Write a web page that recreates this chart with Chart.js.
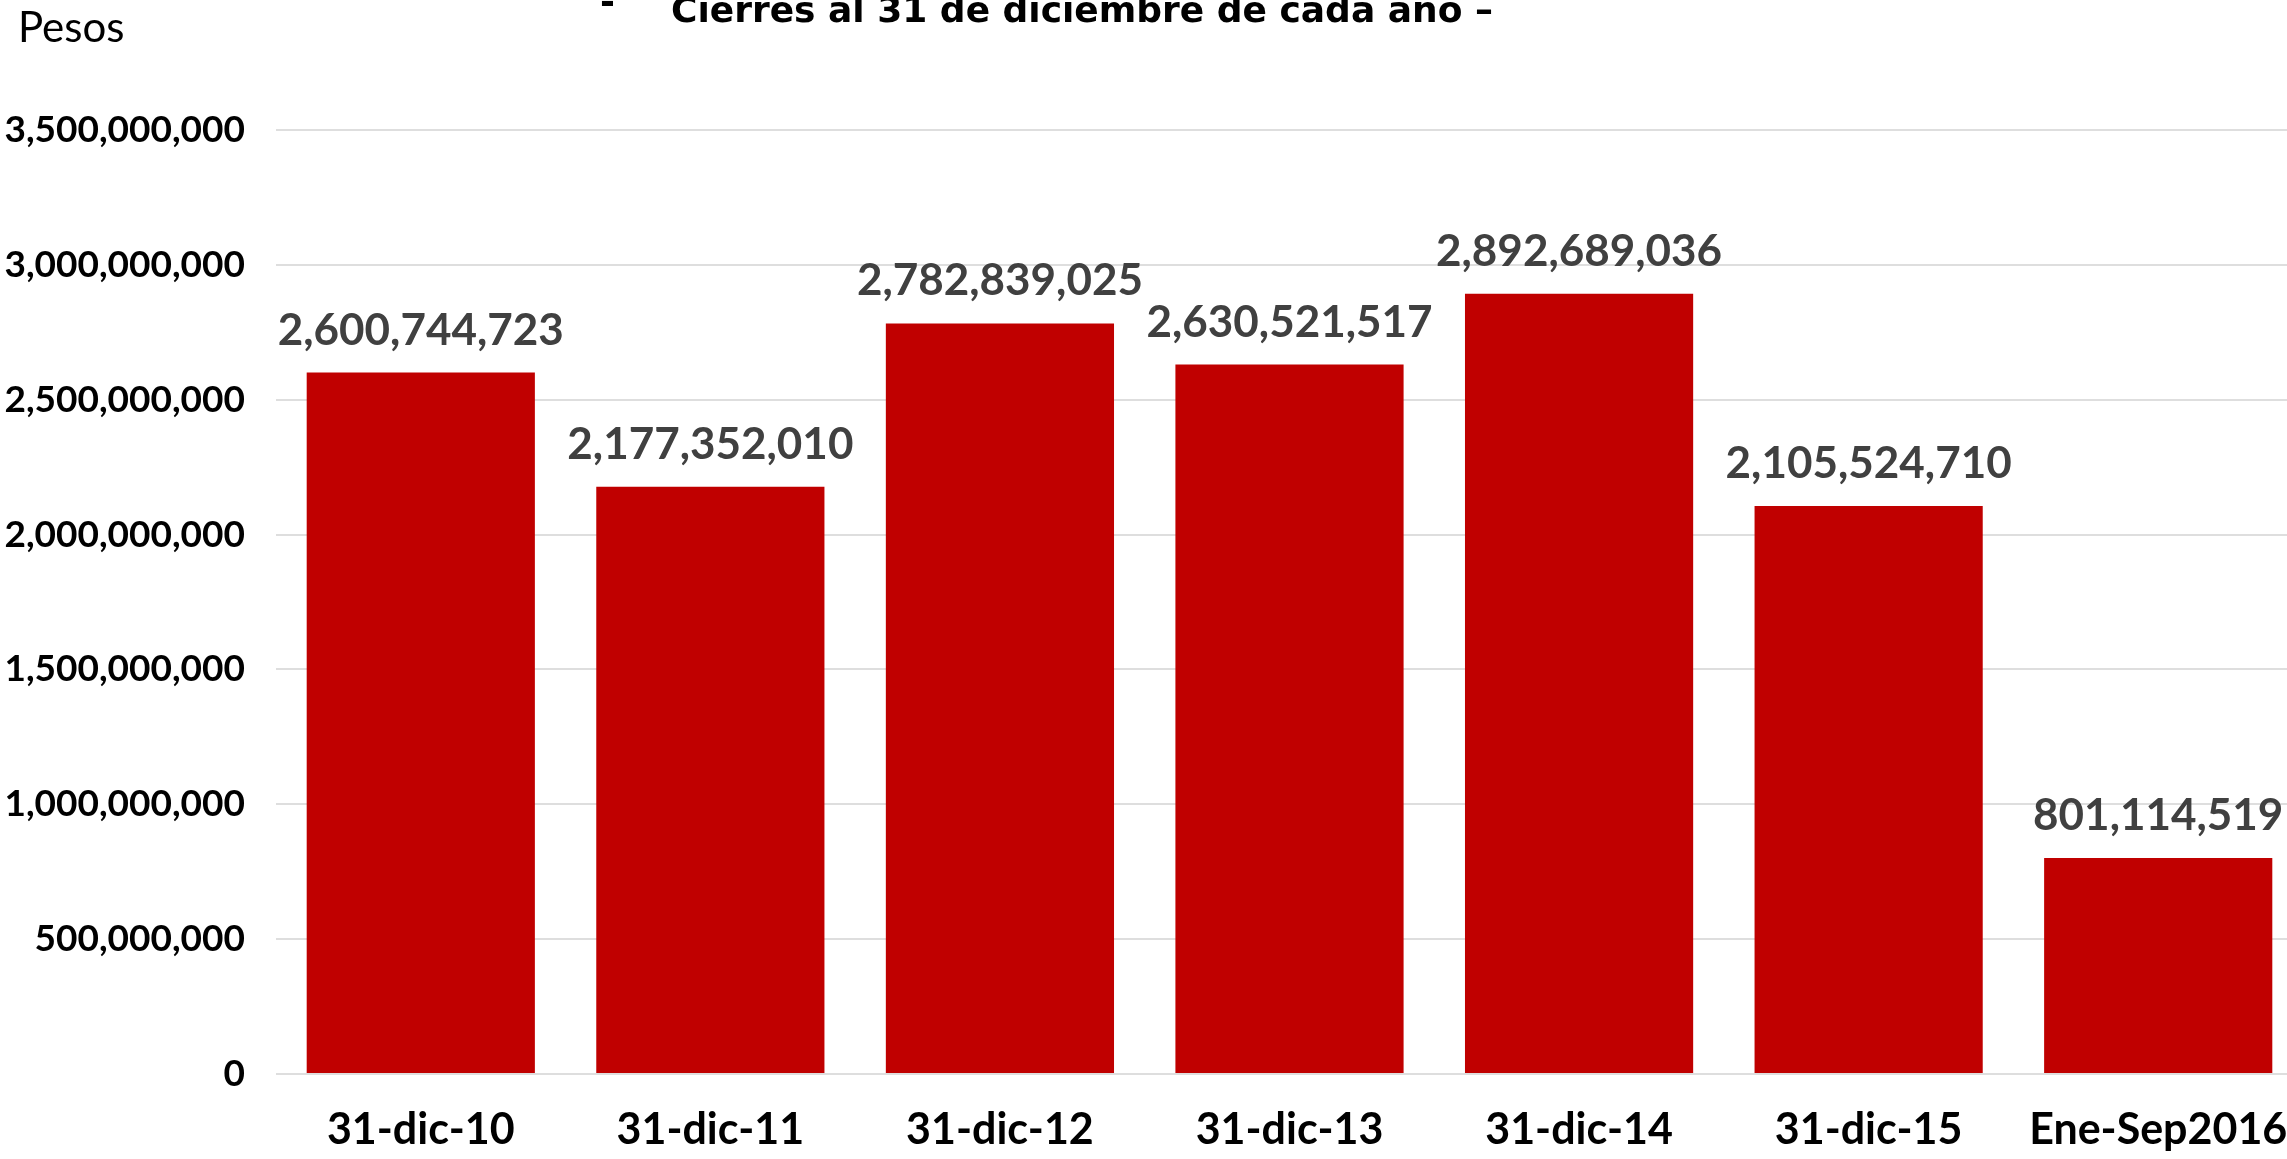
<!DOCTYPE html>
<html>
<head>
<meta charset="utf-8">
<script src="https://cdn.jsdelivr.net/npm/chart.js@4.4.1/dist/chart.umd.min.js"></script>
<style>
  html, body { margin: 0; padding: 0; background: #fff; overflow: hidden; width: 2287px; height: 1159px; }
  #wrap { position: absolute; left: 0; top: 0; width: 2303px; height: 1159px; }
</style>
</head>
<body>
<div id="wrap"><canvas id="cierresChart"></canvas></div>
<script>
const categories = ['31-dic-10', '31-dic-11', '31-dic-12', '31-dic-13', '31-dic-14', '31-dic-15', 'Ene-Sep2016'];
const cierres = [2600744723, 2177352010, 2782839025, 2630521517, 2892689036, 2105524710, 801114519];
const yTicks = [0, 500000000, 1000000000, 1500000000, 2000000000, 2500000000, 3000000000, 3500000000];

const fmt = (n) => n.toLocaleString('en-US');

// labels over the bars + the loose texts (unit, cut off title)
const extrasPlugin = {
  id: 'extras',
  afterDatasetsDraw: (chart) => {
    const { ctx } = chart;
    const meta = chart.getDatasetMeta(0);
    ctx.save();
    ctx.fillStyle = '#404040';
    ctx.font = 'bold 44px Lato';
    ctx.textAlign = 'center';
    ctx.textBaseline = 'alphabetic';
    meta.data.forEach((bar, i) => {
      ctx.fillText(fmt(cierres[i]), bar.x, bar.y - 28);
    });

    ctx.fillStyle = '#000';
    ctx.textAlign = 'left';
    ctx.font = '42px Lato';
    ctx.fillText('Pesos', 18, 42);

    ctx.font = 'bold 36px "DejaVu Sans"';
    ctx.fillText('-', 600, 14);
    ctx.fillText('Cierres al 31 de diciembre de cada año \u2013', 671, 22);
    ctx.restore();
  },
};

const ctx = document.getElementById('cierresChart');

new Chart(ctx, {
  type: 'bar',
  data: {
    labels: categories,
    datasets: [
      {
        data: cierres,
        backgroundColor: '#C00000',
        borderWidth: 0,
        categoryPercentage: 1,
        barPercentage: 0.788,
      },
    ],
  },
  options: {
    responsive: true,
    maintainAspectRatio: false,
    animation: false,
    devicePixelRatio: 1,
    layout: { padding: { top: 130, right: 0, left: 0, bottom: 0 } },
    plugins: {
      legend: { display: false },
      tooltip: { enabled: false },
      title: { display: false },
    },
    scales: {
      x: {
        grid: { display: false, drawTicks: false },
        border: { display: false },
        ticks: {
          color: '#000',
          font: { family: 'Lato', weight: 'bold', size: 43 },
          padding: 30,
          maxRotation: 0,
          autoSkip: false,
        },
        afterFit: (scale) => {
          scale.height = 85;
          // the last label may run off the edge, like in the original
          scale.paddingLeft = 0;
          scale.paddingRight = 0;
        },
      },
      y: {
        min: 0,
        max: 3500000000,
        afterBuildTicks: (scale) => { scale.ticks = yTicks.map((v) => ({ value: v })); },
        grid: { color: '#dedede', lineWidth: 2, drawTicks: false },
        border: { display: false },
        ticks: {
          color: '#000',
          font: { family: 'Lato', weight: 'bold', size: 37 },
          padding: 31,
          callback: (v) => fmt(v),
        },
        afterFit: (scale) => { scale.width = 276; },
      },
    },
  },
  plugins: [extrasPlugin],
});
</script>
</body>
</html>
